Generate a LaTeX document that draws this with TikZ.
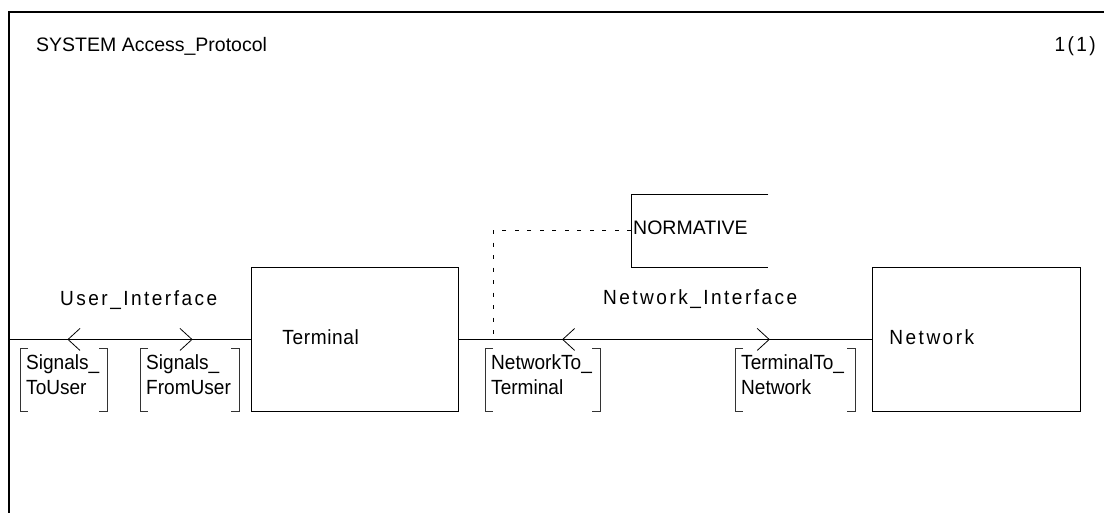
\documentclass[tikz,border=0pt]{standalone}
\usepackage{fontspec}
\setmainfont{Liberation Sans}[FakeStretch=0.93]
\newfontfamily\titlefont{Liberation Sans}
\newfontfamily\lsA[LetterSpace=12,FakeStretch=0.93]{Liberation Sans}
\newfontfamily\lsB[LetterSpace=12,FakeStretch=0.93]{Liberation Sans}
\newfontfamily\lsC[LetterSpace=3,FakeStretch=0.93]{Liberation Sans}
\newcommand\sigbrk[4]{% x1, x2, ytop, ybottom
  \draw[brk] (#1+8,#3) -- (#1,#3) -- (#1,#4) -- (#1+8,#4);
  \draw[brk] (#2-8,#3) -- (#2,#3) -- (#2,#4) -- (#2-8,#4);}
\begin{document}
\begin{tikzpicture}[x=1pt,y=-1pt,
  font=\fontsize{20.5}{25}\selectfont,
  frame/.style={line width=1.4pt},
  block/.style={draw, line width=0.9pt, anchor=north west, inner ysep=0pt, align=left, text depth=4pt},
  brk/.style={line width=0.8pt, draw=black!80},
  chan/.style={line width=0.9pt},
  chev/.style={line width=0.8pt},
  sigtext/.style={anchor=north west, inner sep=0pt, align=left},
  assoc/.style={line width=0.8pt, dash pattern=on 4pt off 8.5pt}]
\useasboundingbox (0,0) rectangle (1104,513);

% frame
\draw[frame] (9,513) coordinate (fbl) -- (9,12) coordinate (ftl) -- (1104,12);
\node[anchor=base west, inner sep=0pt, font=\titlefont\fontsize{19.5}{23}\selectfont] (title) at (36,51.5) {SYSTEM Access\_Protocol};
\node[anchor=base east, inner sep=0pt, font=\lsA\fontsize{20.5}{25}\selectfont] (page) at (1096,51.5) {1(1)};

% blocks
\node[block, minimum width=207pt, minimum height=144pt, inner xsep=31pt, text width=145pt,
      font=\lsC\fontsize{20.5}{25}\selectfont] (term) at (251,267) {Terminal};
\node[block, minimum width=208pt, minimum height=144pt, inner xsep=17pt, text width=174pt,
      font=\lsA\fontsize{20.5}{25}\selectfont] (net) at (872,267) {Network};

% normative comment box (open on the right)
\node[minimum width=137pt, minimum height=73pt, anchor=north west, inner sep=0pt] (norm) at (631,194) {};
\draw[line width=0.9pt] (norm.north east) -- (norm.north west) -- (norm.south west) -- (norm.south east);
\node[anchor=base west, inner sep=0pt, font=\titlefont\fontsize{19.5}{23}\selectfont] (normtxt) at (633,235) {NORMATIVE};

% channels
\coordinate (envL) at (term.west -| ftl);
\draw[chan] (envL) -- coordinate[pos=0.2438] (u1) coordinate[pos=0.7562] (u2) (term.west);
\draw[chan] (term.east) -- coordinate[pos=0.2512] (n1) coordinate[pos=0.7512] (n2) (net.west);
\draw[chev] ([shift={(12,-11)}]u1) -- (u1) -- ([shift={(12,11)}]u1);
\draw[chev] ([shift={(-12,-11)}]u2) -- (u2) -- ([shift={(-12,11)}]u2);
\draw[chev] ([shift={(12,-11)}]n1) -- (n1) -- ([shift={(12,11)}]n1);
\draw[chev] ([shift={(-12,-11)}]n2) -- (n2) -- ([shift={(-12,11)}]n2);

% association
\coordinate (nc) at (term.east -| 493,0);
\draw[assoc] (norm.west) -| (nc);

% channel names
\node[anchor=base west, inner sep=0pt, font=\lsA\fontsize{20.5}{25}\selectfont] (uif) at (60,305.5) {User\_Interface};
\node[anchor=base west, inner sep=0pt, font=\lsB\fontsize{20.5}{25}\selectfont] (nif) at (603,305) {Network\_Interface};

% signal lists
\sigbrk{20}{107}{348}{411}
\node[sigtext] (s1) at (26,354.5) {Signals\_\\ToUser};
\sigbrk{140}{239}{348}{411}
\node[sigtext] (s2) at (146,354.5) {Signals\_\\FromUser};
\sigbrk{485}{600}{348}{411}
\node[sigtext] (s3) at (491,354.5) {NetworkTo\_\\Terminal};
\sigbrk{735}{855}{348}{411}
\node[sigtext] (s4) at (741,354.5) {TerminalTo\_\\Network};
\end{tikzpicture}
\end{document}
